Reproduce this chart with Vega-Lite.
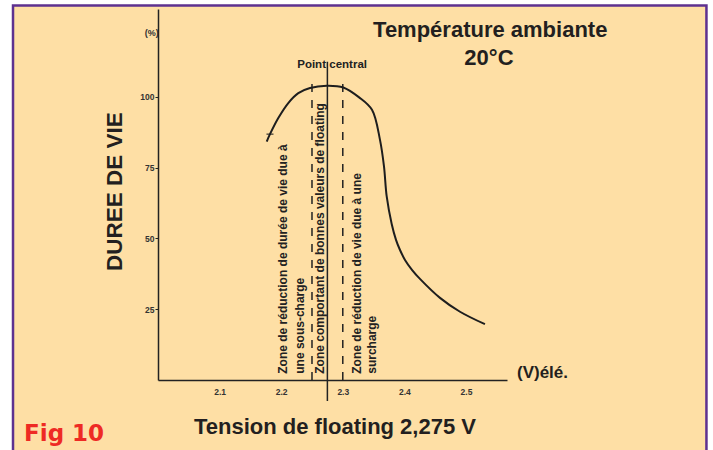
{
  "$schema": "https://vega.github.io/schema/vega-lite/v6.json",
  "width": 349,
  "height": 371,
  "autosize": {"type": "none"},
  "padding": {"left": 158, "top": 9, "right": 206, "bottom": 70},
  "background": "#ffffff",
  "config": {"view": {"stroke": null}, "font": "Liberation Sans"},
  "datasets": {
    "curve": [
      {"v": 2.1765, "life": 84.2},
      {"v": 2.1818, "life": 86.8},
      {"v": 2.1953, "life": 92.5},
      {"v": 2.2115, "life": 97.8},
      {"v": 2.2278, "life": 101.3},
      {"v": 2.2468, "life": 103.1},
      {"v": 2.2739, "life": 103.9},
      {"v": 2.3008, "life": 103.3},
      {"v": 2.3265, "life": 99.8},
      {"v": 2.3474, "life": 95.4},
      {"v": 2.3604, "life": 84.8},
      {"v": 2.3669, "life": 75.4},
      {"v": 2.3713, "life": 64.8},
      {"v": 2.3794, "life": 55.1},
      {"v": 2.3864, "life": 49.5},
      {"v": 2.3929, "life": 45.9},
      {"v": 2.4010, "life": 42.4},
      {"v": 2.4123, "life": 38.9},
      {"v": 2.4253, "life": 35.7},
      {"v": 2.4578, "life": 29.0},
      {"v": 2.4903, "life": 24.1},
      {"v": 2.5308, "life": 19.7}
    ]
  },
  "layer": [
    {
      "data": {"values": [{"label": "panel"}]},
      "mark": {"type": "rect", "fill": "#FEDFA5", "stroke": "#5E3190", "strokeWidth": 2.5},
      "encoding": {
        "x": {
          "datum": 1.7646, "type": "quantitative",
          "scale": {"domain": [2, 2.5666], "nice": false, "zero": false},
          "axis": {
            "title": null, "orient": "bottom", "values": [2.1, 2.2, 2.3, 2.4, 2.5], "format": ".1f",
            "ticks": false, "labelPadding": 7, "labelFontSize": 8.5, "labelFontWeight": "bold",
            "labelColor": "#333333", "labelFont": "Liberation Sans",
            "domainColor": "#222222", "domainWidth": 1.5, "grid": false, "zindex": 1
          }
        },
        "x2": {"datum": 2.8904},
        "y": {
          "datum": 132.2, "type": "quantitative",
          "scale": {"domain": [0, 131], "nice": false, "zero": false},
          "axis": {
            "title": null, "values": [25, 50, 75, 100], "tickSize": 3, "tickColor": "#222222", "tickWidth": 1,
            "labelPadding": 1, "labelFontSize": 8.5, "labelFontWeight": "bold", "labelColor": "#333333",
            "labelFont": "Liberation Sans", "domainColor": "#222222", "domainWidth": 1.5, "grid": false, "zindex": 1
          }
        },
        "y2": {"datum": -30}
      }
    },
    {
      "data": {"values": [{"v": 2.25}, {"v": 2.30}]},
      "mark": {"type": "rule", "color": "#222222", "strokeWidth": 1.5, "strokeDash": [8, 8]},
      "encoding": {
        "x": {"field": "v", "type": "quantitative"},
        "y": {"datum": 0},
        "y2": {"datum": 107}
      }
    },
    {
      "data": {"values": [{"v": 2.275}]},
      "mark": {"type": "rule", "color": "#222222", "strokeWidth": 1.5},
      "encoding": {
        "x": {"field": "v", "type": "quantitative"},
        "y": {"datum": -7.4},
        "y2": {"datum": 112.4}
      }
    },
    {
      "data": {"name": "curve"},
      "mark": {"type": "line", "interpolate": "catmull-rom", "color": "#1e1e1e", "strokeWidth": 2},
      "encoding": {
        "x": {"field": "v", "type": "quantitative"},
        "y": {"field": "life", "type": "quantitative"}
      }
    },
    {
      "data": {"values": [{"v": 2.1818, "life": 86.8}]},
      "mark": {"type": "point", "shape": "M-1,0L1,0", "size": 49, "filled": false, "stroke": "#1e1e1e", "strokeWidth": 1.5},
      "encoding": {
        "x": {"field": "v", "type": "quantitative"},
        "y": {"field": "life", "type": "quantitative"}
      }
    },
    {
      "data": {"values": [{"label": "Zone de réduction de durée de vie due à"}]},
      "mark": {"type": "text", "angle": 270, "align": "left", "baseline": "middle", "fontSize": 12, "fontWeight": "bold", "color": "#222222"},
      "encoding": {"x": {"datum": 2.2034}, "y": {"datum": 2.2}, "text": {"field": "label"}}
    },
    {
      "data": {"values": [{"label": "une sous-charge"}]},
      "mark": {"type": "text", "angle": 270, "align": "left", "baseline": "middle", "fontSize": 12, "fontWeight": "bold", "color": "#222222"},
      "encoding": {"x": {"datum": 2.2305}, "y": {"datum": 2.2}, "text": {"field": "label"}}
    },
    {
      "data": {"values": [{"label": "Zone comportant de bonnes valeurs de floating"}]},
      "mark": {"type": "text", "angle": 270, "align": "left", "baseline": "middle", "fontSize": 12, "fontWeight": "bold", "color": "#222222"},
      "encoding": {"x": {"datum": 2.263}, "y": {"datum": 2.2}, "text": {"field": "label"}}
    },
    {
      "data": {"values": [{"label": "Zone de réduction de vie due à une"}]},
      "mark": {"type": "text", "angle": 270, "align": "left", "baseline": "middle", "fontSize": 12, "fontWeight": "bold", "color": "#222222"},
      "encoding": {"x": {"datum": 2.3226}, "y": {"datum": 2.2}, "text": {"field": "label"}}
    },
    {
      "data": {"values": [{"label": "surcharge"}]},
      "mark": {"type": "text", "angle": 270, "align": "left", "baseline": "middle", "fontSize": 12, "fontWeight": "bold", "color": "#222222"},
      "encoding": {"x": {"datum": 2.3479}, "y": {"datum": 2.2}, "text": {"field": "label"}}
    },
    {
      "data": {"values": [{"label": "Point"}]},
      "mark": {"type": "text", "align": "right", "baseline": "alphabetic", "fontSize": 11.5, "fontWeight": "bold", "color": "#222222"},
      "encoding": {"x": {"datum": 2.2727}, "y": {"datum": 110.1}, "text": {"field": "label"}}
    },
    {
      "data": {"values": [{"label": "central"}]},
      "mark": {"type": "text", "align": "left", "baseline": "alphabetic", "fontSize": 11.5, "fontWeight": "bold", "color": "#222222"},
      "encoding": {"x": {"datum": 2.2781}, "y": {"datum": 110.1}, "text": {"field": "label"}}
    },
    {
      "data": {"values": [{"label": "(%)"}]},
      "mark": {"type": "text", "align": "center", "baseline": "middle", "fontSize": 9, "fontWeight": "bold", "color": "#333333"},
      "encoding": {"x": {"datum": 1.9899}, "y": {"datum": 122.6}, "text": {"field": "label"}}
    },
    {
      "data": {"values": [{"label": "Température ambiante"}]},
      "mark": {"type": "text", "align": "center", "baseline": "alphabetic", "fontSize": 22, "fontWeight": "bold", "color": "#231F20"},
      "encoding": {"x": {"datum": 2.5394}, "y": {"datum": 121.1}, "text": {"field": "label"}}
    },
    {
      "data": {"values": [{"label": "20°C"}]},
      "mark": {"type": "text", "align": "center", "baseline": "alphabetic", "fontSize": 22, "fontWeight": "bold", "color": "#231F20"},
      "encoding": {"x": {"datum": 2.5373}, "y": {"datum": 111.3}, "text": {"field": "label"}}
    },
    {
      "data": {"values": [{"label": "DUREE DE VIE"}]},
      "mark": {"type": "text", "angle": 270, "align": "center", "baseline": "middle", "fontSize": 22.5, "fontWeight": "bold", "color": "#231F20"},
      "encoding": {"x": {"datum": 1.9302}, "y": {"datum": 66.5}, "text": {"field": "label"}}
    },
    {
      "data": {"values": [{"label": "(V)élé."}]},
      "mark": {"type": "text", "align": "left", "baseline": "alphabetic", "fontSize": 17, "fontWeight": "bold", "color": "#231F20"},
      "encoding": {"x": {"datum": 2.5828}, "y": {"datum": 0.81}, "text": {"field": "label"}}
    },
    {
      "data": {"values": [{"label": "Tension de floating 2,275 V"}]},
      "mark": {"type": "text", "align": "center", "baseline": "alphabetic", "fontSize": 22, "fontWeight": "bold", "color": "#231F20"},
      "encoding": {"x": {"datum": 2.2873}, "y": {"datum": -19.2}, "text": {"field": "label"}}
    },
    {
      "data": {"values": [{"label": "Fig 10"}]},
      "mark": {"type": "text", "align": "left", "baseline": "alphabetic", "fontSize": 23, "fontWeight": "bold", "font": "DejaVu Sans", "color": "#EE2A24"},
      "encoding": {"x": {"datum": 1.7825}, "y": {"datum": -21.45}, "text": {"field": "label"}}
    }
  ]
}
